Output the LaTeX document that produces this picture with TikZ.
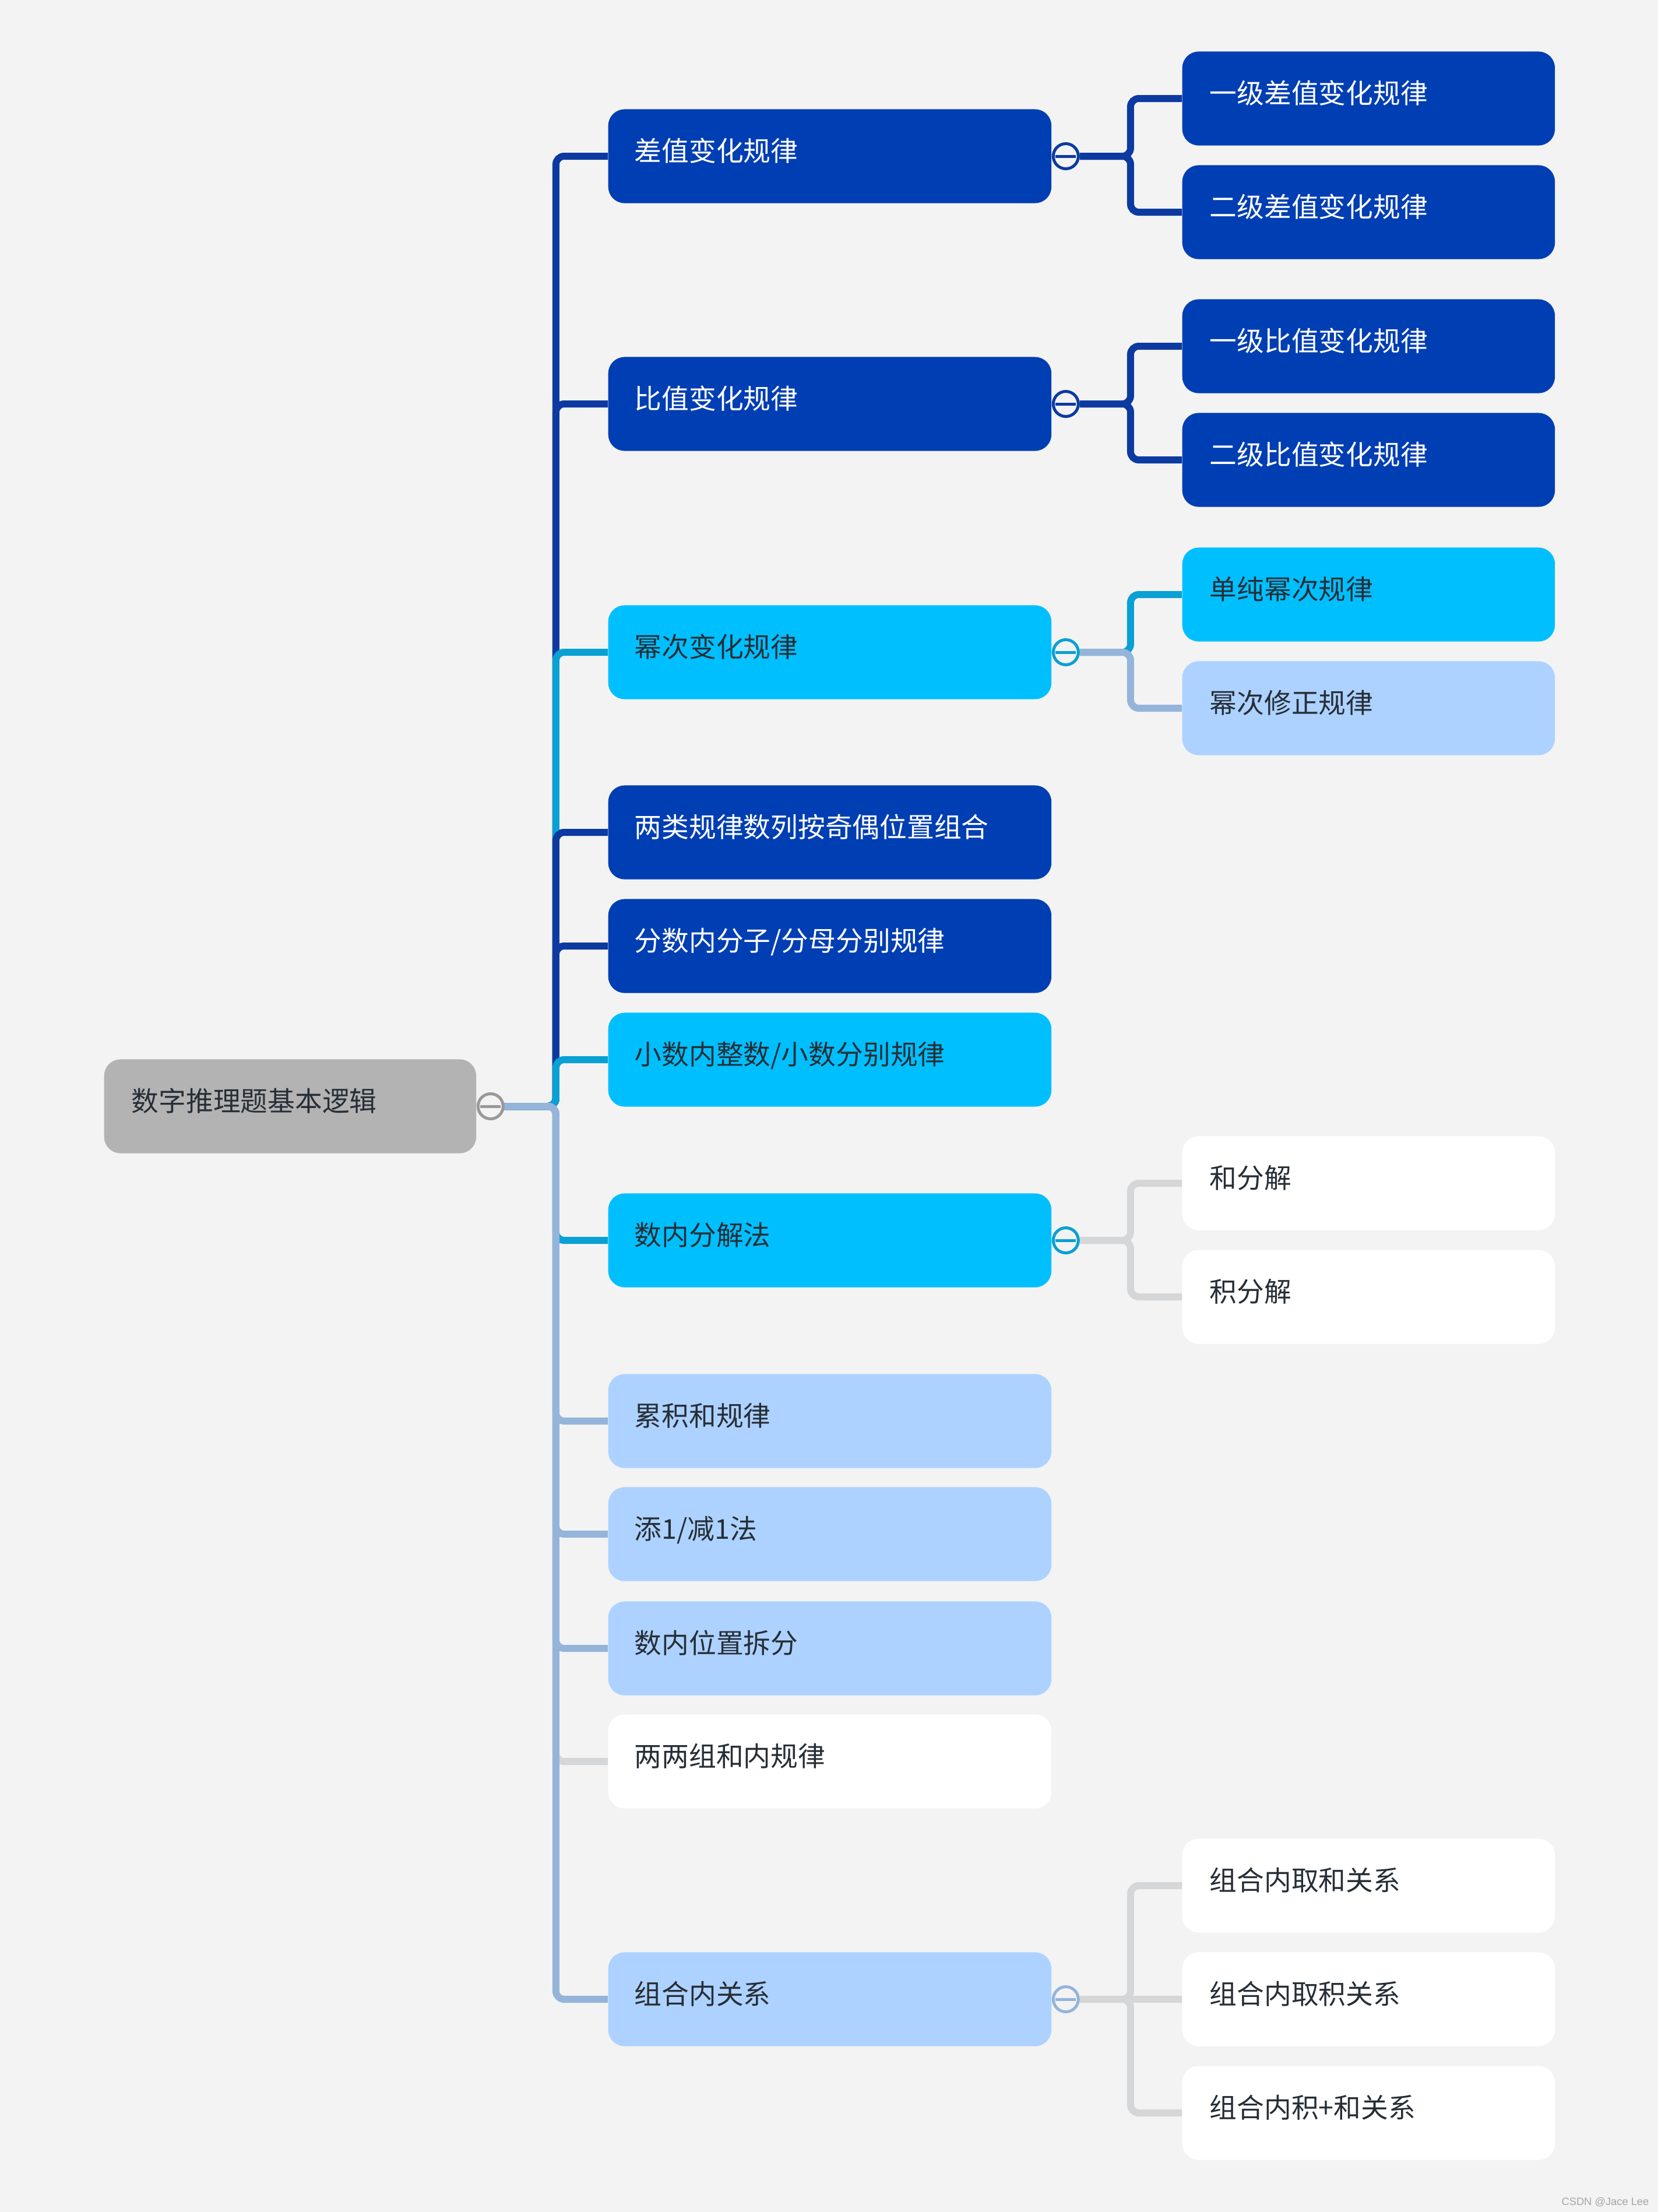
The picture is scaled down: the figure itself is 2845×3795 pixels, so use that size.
\documentclass[tikz,border=0pt]{standalone}
\usepackage{fontspec}
\newfontfamily\cjk{Noto Sans CJK SC}
\newfontfamily\wmfont{Liberation Sans}
\usetikzlibrary{positioning,backgrounds}
\definecolor{bg}{RGB}{243,243,243}
\definecolor{ink}{RGB}{38,46,54}
\definecolor{dkfill}{RGB}{0,62,179}
\definecolor{cyfill}{RGB}{0,191,255}
\definecolor{lbfill}{RGB}{173,210,255}
\definecolor{rootfill}{RGB}{179,179,179}
\definecolor{dkline}{RGB}{12,58,160}
\definecolor{cyline}{RGB}{9,160,212}
\definecolor{lbline}{RGB}{148,180,218}
\definecolor{wtline}{RGB}{213,214,216}
\definecolor{rootline}{RGB}{153,153,153}
\begin{document}
\begin{tikzpicture}[x=0.01cm,y=-0.01cm,line join=round,
  box/.style={rounded corners=0.28cm,minimum height=1.61cm,anchor=west,align=left,
    text height=0.4cm,text depth=0.234cm,inner ysep=0pt,text=ink,
    font=\cjk\fontsize{13.3}{16}\selectfont},
  lvone/.style={box,inner xsep=0.45cm,text width=6.70cm},
  lvtwo/.style={box,inner xsep=0.47cm,text width=5.45cm},
  dk/.style={fill=dkfill,text=white},
  cy/.style={fill=cyfill},
  lb/.style={fill=lbfill},
  wt/.style={fill=white},
  foldbtn/.style={circle,draw=#1,fill=bg,line width=0.05cm,minimum size=0.43cm,inner sep=0pt,
    path picture={\draw[#1,line width=0.05cm] ([xshift=-0.175cm]path picture bounding box.center)
      -- ([xshift=0.175cm]path picture bounding box.center);}},
  link/.style={draw=#1,line width=0.12cm,rounded corners=0.14cm}]

\node[box,inner xsep=0.47cm,text width=5.44cm,fill=rootfill] (root) at (178,1898) {数字推理题基本逻辑};
\node[foldbtn=rootline,right=0pt of root] (root-fold) {};

\node[lvone,dk] (chazhi) at (1043,268) {差值变化规律};
\node[foldbtn=dkline,right=0pt of chazhi] (chazhi-fold) {};
\node[lvone,dk] (bizhi) at (1043,693) {比值变化规律};
\node[foldbtn=dkline,right=0pt of bizhi] (bizhi-fold) {};
\node[lvone,cy] (mici) at (1043,1119) {幂次变化规律};
\node[foldbtn=cyline,right=0pt of mici] (mici-fold) {};
\node[lvone,dk] (jiou) at (1043,1428) {两类规律数列按奇偶位置组合};
\node[lvone,dk] (fenshu) at (1043,1623) {分数内分子/分母分别规律};
\node[lvone,cy] (xiaoshu) at (1043,1818) {小数内整数/小数分别规律};
\node[lvone,cy] (fenjie) at (1043,2128) {数内分解法};
\node[foldbtn=cyline,right=0pt of fenjie] (fenjie-fold) {};
\node[lvone,lb] (leiji) at (1043,2438) {累积和规律};
\node[lvone,lb] (tianjian) at (1043,2632) {添1/减1法};
\node[lvone,lb] (weizhi) at (1043,2828) {数内位置拆分};
\node[lvone,wt] (liangliang) at (1043,3022) {两两组和内规律};
\node[lvone,lb] (zuhe) at (1043,3430) {组合内关系};
\node[foldbtn=lbline,right=0pt of zuhe] (zuhe-fold) {};

\node[lvtwo,dk] (cz1) at (2028,169) {一级差值变化规律};
\node[lvtwo,dk] (cz2) at (2028,364) {二级差值变化规律};
\node[lvtwo,dk] (bz1) at (2028,594) {一级比值变化规律};
\node[lvtwo,dk] (bz2) at (2028,789) {二级比值变化规律};
\node[lvtwo,cy] (mc1) at (2028,1020) {单纯幂次规律};
\node[lvtwo,lb] (mc2) at (2028,1215) {幂次修正规律};
\node[lvtwo,wt] (fj1) at (2028,2030) {和分解};
\node[lvtwo,wt] (fj2) at (2028,2225) {积分解};
\node[lvtwo,wt] (zh1) at (2028,3235) {组合内取和关系};
\node[lvtwo,wt] (zh2) at (2028,3430) {组合内取积关系};
\node[lvtwo,wt] (zh3) at (2028,3625) {组合内积+和关系};

\node[anchor=east,text={rgb,255:red,165;green,165;blue,165},inner sep=0pt,
  font=\wmfont\fontsize{5.2}{6}\selectfont] (csdn) at (2830,3778) {CSDN @Jace Lee};

\begin{scope}[on background layer]
\fill[bg] (0,0) rectangle (2845,3795);
\foreach \n/\c in {chazhi/dkline,bizhi/dkline,mici/cyline,jiou/dkline,fenshu/dkline,
    xiaoshu/cyline,fenjie/cyline,leiji/lbline,tianjian/lbline,weizhi/lbline,
    liangliang/wtline,zuhe/lbline}
  \draw[link=\c] (root-fold.east) -| ([xshift=-0.89cm]\n.west) -- (\n.west);
\foreach \p/\n/\c in {chazhi/cz1/dkline,chazhi/cz2/dkline,bizhi/bz1/dkline,bizhi/bz2/dkline,
    mici/mc1/cyline,mici/mc2/lbline,fenjie/fj1/wtline,fenjie/fj2/wtline,
    zuhe/zh1/wtline,zuhe/zh3/wtline}
  \draw[link=\c] (\p-fold.east) -| ([xshift=-0.88cm]\n.west) -- (\n.west);
\draw[link=wtline] (zuhe-fold.east) -- (zh2.west);
\end{scope}
\end{tikzpicture}
\end{document}
